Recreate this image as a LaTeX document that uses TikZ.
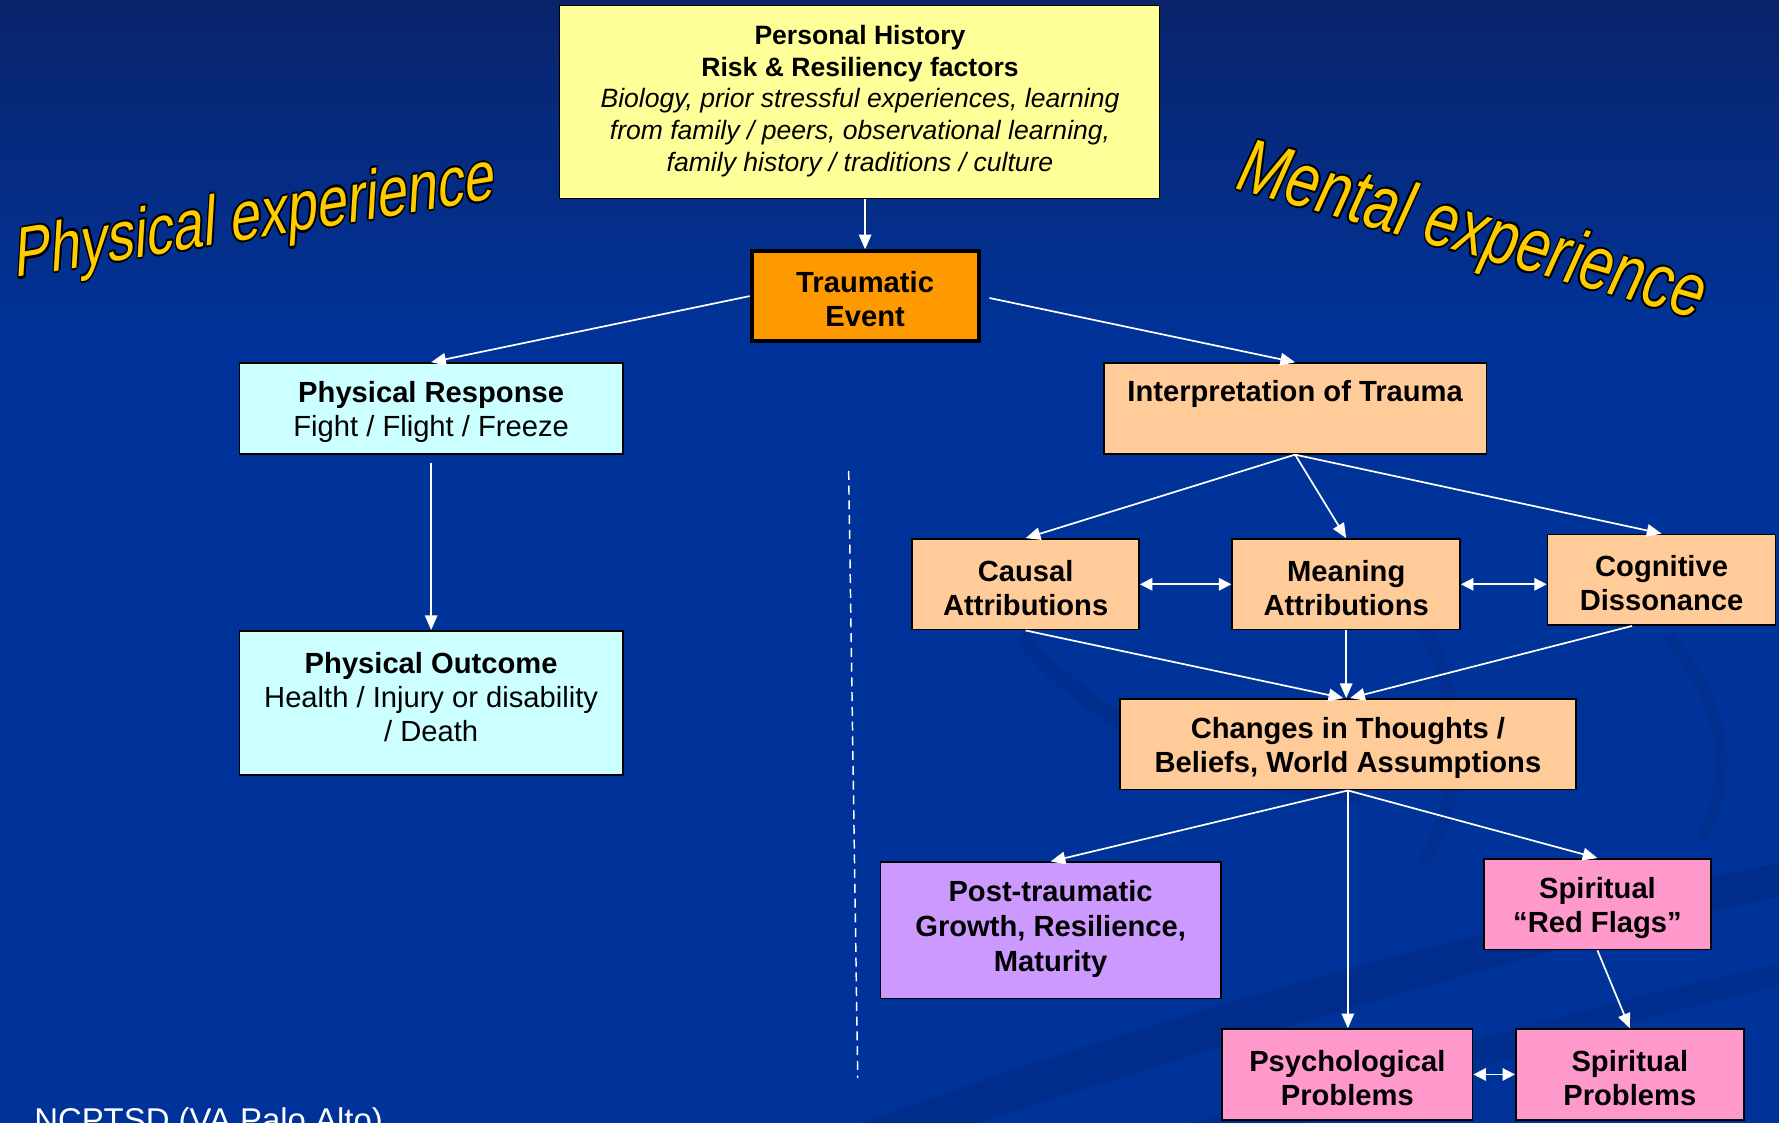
\documentclass[tikz,border=0pt]{standalone}
\usepackage{fontspec}
\setmainfont{Liberation Sans}
\usetikzlibrary{arrows.meta,calc}
\definecolor{bgtop}{RGB}{10,36,108}
\definecolor{bgbot}{RGB}{0,51,153}
\definecolor{swoosh}{RGB}{0,36,120}
\definecolor{cyel}{HTML}{FFFF99}
\definecolor{corange}{HTML}{FF9900}
\definecolor{ccyan}{HTML}{CCFFFF}
\definecolor{cpeach}{HTML}{FFCC99}
\definecolor{cviolet}{HTML}{CC99FF}
\definecolor{cpink}{HTML}{FF99CC}
\definecolor{wordart}{HTML}{FFCC00}
\newcommand\ocopy[3]{\makebox[0pt][l]{\hspace*{#1}\raisebox{#2}{\textcolor{black}{#3}}}}
\newcommand\outlinetext[1]{\ocopy{1.4pt}{0pt}{#1}\ocopy{-1.4pt}{0pt}{#1}\ocopy{0pt}{1.4pt}{#1}\ocopy{0pt}{-1.4pt}{#1}\ocopy{1pt}{1pt}{#1}\ocopy{-1pt}{1pt}{#1}\ocopy{1pt}{-1pt}{#1}\ocopy{-1pt}{-1pt}{#1}#1}
\tikzset{
  boxbase/.style={draw=black, line width=1.4pt, inner sep=0pt},
  txt/.style={align=center, inner sep=0pt, text=black, font=\fontsize{25.7}{30}\selectfont\bfseries},
  conn/.style={draw=white, line width=1.5pt, -{Triangle[length=13pt,width=11pt]}},
  dconn/.style={draw=white, line width=1.5pt, {Triangle[length=11pt,width=11pt]}-{Triangle[length=11pt,width=11pt]}},
  wa/.style={inner sep=0pt, text=wordart, font=\fontsize{47.5}{55}\selectfont},
}
\begin{document}
\begin{tikzpicture}[x=1pt,y=-1pt]
\useasboundingbox (0,0) rectangle (1568,990);
\clip (0,0) rectangle (1568,990);
\fill[bgbot] (0,0) rectangle (1568,990);
\fill[top color=bgtop, bottom color=bgbot] (0,0) rectangle (1568,300);
% background swooshes (faint)
\fill[swoosh, opacity=0.4] (760,990) .. controls (1000,900) and (1300,820) .. (1568,760) -- (1568,790) .. controls (1300,850) and (1050,930) .. (860,990) -- cycle;
\fill[swoosh, opacity=0.3] (1050,990) .. controls (1250,930) and (1420,880) .. (1568,850) -- (1568,870) .. controls (1420,900) and (1280,950) .. (1150,990) -- cycle;
\draw[swoosh, opacity=0.3, line width=14pt] (900,560) .. controls (960,640) and (1100,700) .. (1200,700);
\draw[swoosh, opacity=0.25, line width=12pt] (1250,545) .. controls (1295,620) and (1290,700) .. (1255,760);
\draw[swoosh, opacity=0.25, line width=10pt] (1470,560) .. controls (1520,620) and (1530,680) .. (1500,740);

% word art
\node[wa, anchor=base west, yslant=0.165, xslant=0.06, yscale=1.3] (physexp) at (13,245) {\outlinetext{Physical experience}};
\node[wa, anchor=base west, rotate=-15.8, yscale=1.3, font=\fontsize{52}{58}\selectfont\itshape] (mentexp) at (1088,166) {\outlinetext{Mental experience}};

% boxes
\node[boxbase, fill=cyel, minimum width=529pt, minimum height=170pt] (ph) at (757.5,90) {};
\node[boxbase, fill=corange, line width=3.5pt, minimum width=200pt, minimum height=79pt] (te) at (762.5,261) {};
\node[boxbase, fill=ccyan, minimum width=338pt, minimum height=80pt] (pr) at (380,360) {};
\node[boxbase, fill=ccyan, minimum width=338pt, minimum height=127pt] (po) at (380,619.5) {};
\node[boxbase, fill=cpeach, minimum width=337pt, minimum height=80pt] (it) at (1141.5,360) {};
\node[boxbase, fill=cpeach, minimum width=200pt, minimum height=80pt] (ca) at (904,515) {};
\node[boxbase, fill=cpeach, minimum width=201pt, minimum height=80pt] (me) at (1186.5,515) {};
\node[boxbase, fill=cpeach, minimum width=201pt, minimum height=80pt] (co) at (1464.5,511) {};
\node[boxbase, fill=cpeach, minimum width=402pt, minimum height=80pt] (ch) at (1188,656) {};
\node[boxbase, fill=cviolet, minimum width=300pt, minimum height=120pt] (pt) at (926,820) {};
\node[boxbase, fill=cpink, minimum width=200pt, minimum height=80pt] (rf) at (1408,797) {};
\node[boxbase, fill=cpink, minimum width=221pt, minimum height=80pt] (psy) at (1187.5,947) {};
\node[boxbase, fill=cpink, minimum width=201pt, minimum height=80pt] (sp) at (1436.5,947) {};

% texts
\node[txt, font=\fontsize{23.4}{28}\selectfont] (ph-t) at (758,89) {\textbf{Personal History}\\\textbf{Risk \& Resiliency factors}\\\textit{Biology, prior stressful experiences, learning}\\\textit{from family / peers, observational learning,}\\\textit{family history / traditions / culture}};
\node[txt] (te-t) at (762.5,264) {Traumatic\\Event};
\node[txt] (pr-t) at (380,363) {Physical Response\\\mdseries Fight / Flight / Freeze};
\node[txt] (po-t) at (380,614.5) {Physical Outcome\\\mdseries Health / Injury or disability\\\mdseries / Death};
\node[txt] (it-t) at (1141.5,347.5) {Interpretation of Trauma};
\node[txt] (ca-t) at (904,518.5) {Causal\\Attributions};
\node[txt] (me-t) at (1186.5,518.5) {Meaning\\Attributions};
\node[txt] (co-t) at (1464.5,513.5) {Cognitive\\Dissonance};
\node[txt] (ch-t) at (1188,659.5) {Changes in Thoughts /\\Beliefs, World Assumptions};
\node[txt, font=\fontsize{25.7}{31}\selectfont\bfseries] (pt-t) at (926,818.5) {Post-traumatic\\Growth, Resilience,\\Maturity};
\node[txt] (rf-t) at (1408,800.5) {Spiritual\\“Red Flags”};
\node[txt] (psy-t) at (1187.5,950.5) {Psychological\\Problems};
\node[txt] (sp-t) at (1436.5,950.5) {Spiritual\\Problems};

% footer
\node[anchor=base west, inner sep=0pt, text=white, font=\fontsize{29}{34}\selectfont] (foot) at (30,997) {NCPTSD (VA Palo Alto)};

% dashed divider
\coordinate (d1) at (748,415);
\coordinate (d2) at (756,950);
\draw[white, line width=1.3pt, dash pattern=on 8pt off 5pt] (d1) -- (d2);

% connectors
\draw[conn] (ph.south -| te.north) -- (te.north);
\draw[conn] (te.west) -- (pr.north);
\draw[conn, shorten <=8pt] (te.east) -- (it.north);
\draw[conn, shorten <=7pt] (pr.south) -- (po.north);
\draw[conn] (it.south) -- (ca.north);
\draw[conn] (it.south) -- (me.north);
\draw[conn] (it.south) -- (co.north);
\draw[dconn] (ca.east) -- (me.west);
\draw[dconn] (me.east) -- (me.east -| co.west);
\draw[conn] (ca.south) -- ($(ch.north)+(-4,0)$);
\draw[conn] (me.south) -- (me.south |- ch.north);
\draw[conn] ($(co.south)+(-26,0)$) -- ($(ch.north)+(2,0)$);
\draw[conn] (ch.south) -- (pt.north);
\draw[conn] (ch.south) -- (ch.south |- psy.north);
\draw[conn] (ch.south) -- (rf.north);
\draw[conn] (rf.south) -- (sp.north);
\draw[dconn] (psy.east) -- (psy.east -| sp.west);
\end{tikzpicture}
\end{document}
